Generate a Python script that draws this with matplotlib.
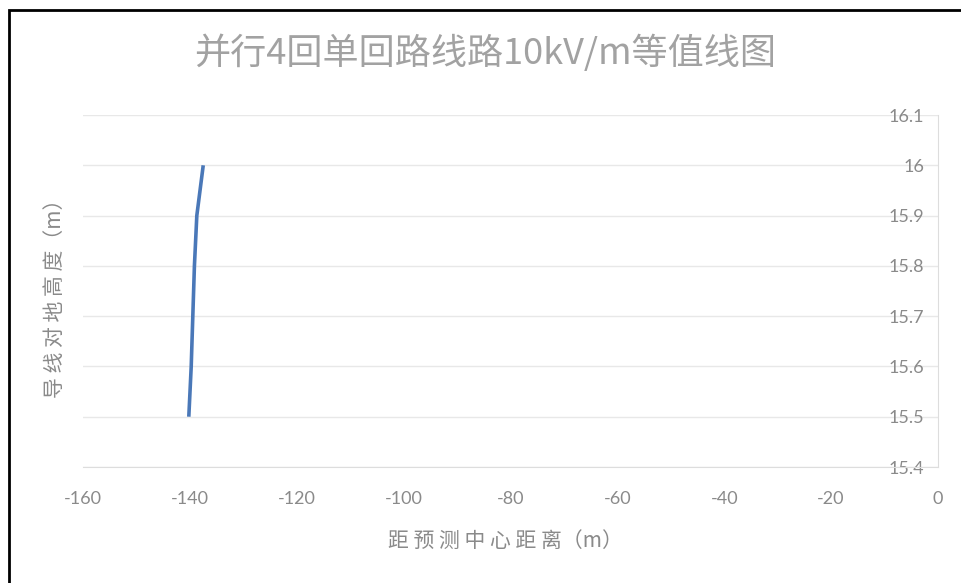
import matplotlib
matplotlib.use("Agg")
import matplotlib.pyplot as plt
from matplotlib.patches import Rectangle

plt.rcParams['font.family'] = ['Noto Sans CJK SC', 'DejaVu Sans']
plt.rcParams['axes.unicode_minus'] = False

# 10kV/m contour: conductor height vs. distance from centre
height = [15.5, 15.6, 15.7, 15.8, 15.9, 16.0]
distance = [-140.2, -139.75, -139.45, -139.15, -138.7, -137.5]

x_ticks = [-160, -140, -120, -100, -80, -60, -40, -20, 0]
y_ticks = [15.4, 15.5, 15.6, 15.7, 15.8, 15.9, 16.0, 16.1]
y_ticklabels = ['15.4', '15.5', '15.6', '15.7', '15.8', '15.9', '16', '16.1']

W, H = 962, 583
fig = plt.figure(figsize=(W / 100, H / 100), dpi=100)
ax = fig.add_axes([83 / W, 1 - 467 / H, (938 - 83) / W, (467 - 115) / H])

grey = '#8a8a8a'
ax.plot(distance, height, color='#4a78b8', lw=2.6, solid_capstyle='butt')

ax.set_xlim(-160, 0)
ax.set_ylim(15.4, 16.1)
ax.set_xticks(x_ticks)
ax.set_yticks(y_ticks)
ax.set_yticklabels(y_ticklabels)

ax.grid(axis='y', color='#e8e8e8', lw=1)
ax.set_axisbelow(True)

for s in ['top', 'right']:
    ax.spines[s].set_visible(False)
ax.spines['left'].set_position(('data', 0))
ax.spines['left'].set_color('#dddddd')
ax.spines['bottom'].set_color('#dddddd')

ax.tick_params(axis='both', length=0, labelsize=13, labelcolor=grey)
ax.tick_params(axis='y', pad=10)
ax.tick_params(axis='x', pad=17)
for lab in ax.get_xticklabels() + ax.get_yticklabels():
    lab.set_family(['Lato', 'DejaVu Sans'])

fig.text(485 / W, 1 - 53 / H, '并行4回单回路线路10kV/m等值线图', ha='center',
         va='center', fontsize=26, color='#a2a2a2', fontweight='light')
fig.text(505 / W, 1 - 541 / H, '距 预 测 中 心 距 离（m）', ha='center', va='center',
         fontsize=15, color=grey)
fig.text(55 / W, 1 - 293 / H, '导 线 对 地 高 度（m）', ha='center', va='center',
         rotation=90, fontsize=15, color=grey)

# outer frame, cut off at the right and bottom
fig.patches.append(Rectangle((9 / W, -0.1), 1.2, 1.1 - 10 / H, transform=fig.transFigure,
                             fill=False, ec='black', lw=2))

fig.savefig('out.png', dpi=100)
